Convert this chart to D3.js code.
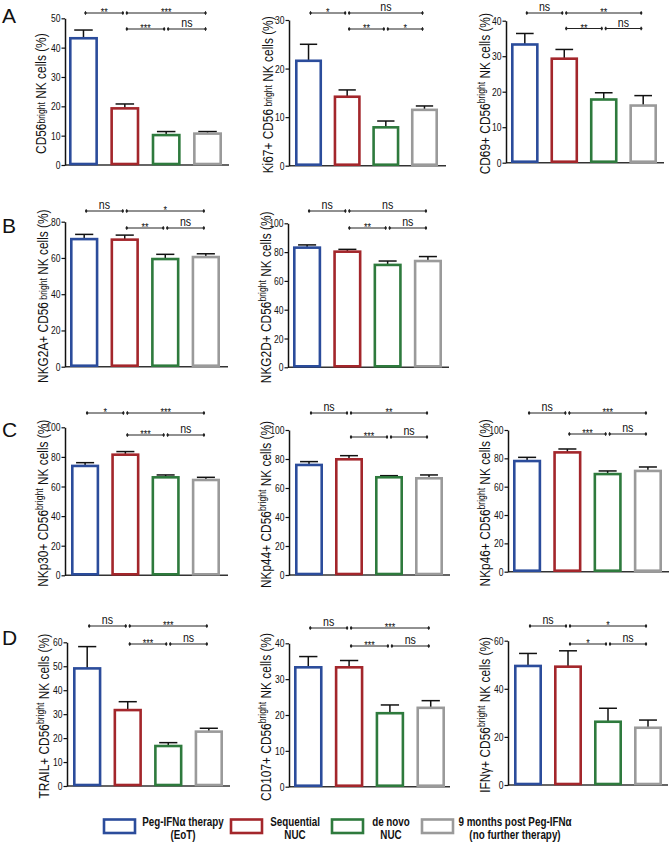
<!DOCTYPE html>
<html><head><meta charset="utf-8">
<script src="https://cdn.jsdelivr.net/npm/d3@7"></script>
<style>body{margin:0;background:#fff}svg{display:block}text{font-family:"Liberation Sans",Arial,sans-serif;fill:#111}</style>
</head><body><svg id="c" width="671" height="843"></svg>
<script>
// ---------- DATA ----------
const groups = ["Peg-IFNα therapy (EoT)", "Sequential NUC", "de novo NUC", "9 months post Peg-IFNα (no further therapy)"];
const legendLines = [["Peg-IFNα therapy", "(EoT)"], ["Sequential", "NUC"], ["de novo", "NUC"], ["9 months post Peg-IFNα", "(no further therapy)"]];
const groupColors = ["#2b4c9b", "#a3262b", "#2e7a3d", "#9a9a9a"];

const cd56Mean = [43.2, 19.3, 10.2, 10.7], cd56Sem = [2.8, 1.5, 1.2, 0.7];
const cd56Sig = [["**", "***"], ["***", "ns"]], cd56Ticks = [0, 10, 20, 30, 40, 50];
const ki67Mean = [21.6, 14.2, 7.9, 11.5], ki67Sem = [3.4, 1.4, 1.3, 0.8];
const ki67Sig = [["*", "ns"], ["**", "*"]], ki67Ticks = [0, 10, 20, 30];
const cd69Mean = [33.3, 29.3, 17.8, 16.1], cd69Sem = [3.1, 2.6, 1.9, 2.8];
const cd69Sig = [["ns", "**"], ["**", "ns"]], cd69Ticks = [0, 10, 20, 30, 40];
const nkg2aMean = [70.4, 70.1, 59.4, 60.5], nkg2aSem = [2.6, 2.5, 2.6, 1.8];
const nkg2aSig = [["ns", "*"], ["**", "ns"]], nkg2aTicks = [0, 20, 40, 60, 80];
const nkg2dMean = [83.1, 80.3, 71.1, 73.8], nkg2dSem = [1.9, 1.6, 2.7, 3.1];
const nkg2dSig = [["ns", "ns"], ["**", "ns"]], nkg2dTicks = [0, 20, 40, 60, 80, 100];
const nkp30Mean = [73.9, 81.5, 66.2, 64.4], nkp30Sem = [2.2, 2.1, 1.6, 1.8];
const nkp30Sig = [["*", "***"], ["***", "ns"]], nkp30Ticks = [0, 20, 40, 60, 80, 100];
const nkp44Mean = [75.9, 79.8, 67.4, 66.7], nkp44Sem = [2.3, 2.5, 1.1, 2.3];
const nkp44Sig = [["ns", "**"], ["***", "ns"]], nkp44Ticks = [0, 20, 40, 60, 80, 100];
const nkp46Mean = [78.1, 84.2, 68.9, 71.1], nkp46Sem = [2.6, 2.4, 2.2, 2.8];
const nkp46Sig = [["ns", "***"], ["***", "ns"]], nkp46Ticks = [0, 20, 40, 60, 80, 100];
const trailMean = [49.1, 31.7, 16.7, 22.7], trailSem = [9.1, 3.5, 1.4, 1.4];
const trailSig = [["ns", "***"], ["***", "ns"]], trailTicks = [0, 10, 20, 30, 40, 50, 60];
const cd107Mean = [33.3, 33.3, 20.5, 22.0], cd107Sem = [3.0, 1.9, 2.3, 2.0];
const cd107Sig = [["ns", "***"], ["***", "ns"]], cd107Ticks = [0, 10, 20, 30, 40];
const ifngMean = [49.5, 49.2, 26.3, 23.8], ifngSem = [5.2, 6.6, 5.6, 3.2];
const ifngSig = [["ns", "*"], ["*", "ns"]], ifngTicks = [0, 20, 40, 60];

// ---------- LAYOUT ----------
const panels = [
  {mean: cd56Mean, sem: cd56Sem, sig: cd56Sig, ticks: cd56Ticks, label: ["CD56", "bright", " NK cells (%)"], sup: false,
   ax: 65, x0: 69, x1: 222, yt: 18.3, yb: 165, xe: 229, lx: 46, b1: 13, b2: 29},
  {mean: ki67Mean, sem: ki67Sem, sig: ki67Sig, ticks: ki67Ticks, label: ["Ki67+ CD56", " bright", "  NK cells (%)"], sup: false,
   ax: 289, x0: 295, x1: 438, yt: 20, yb: 165.7, xe: 446, lx: 273, b1: 13, b2: 29},
  {mean: cd69Mean, sem: cd69Sem, sig: cd69Sig, ticks: cd69Ticks, label: ["CD69+ CD56", "bright", " NK cells (%)"], sup: true,
   ax: 506, x0: 511, x1: 657, yt: 20.7, yb: 162.7, xe: 664, lx: 490, b1: 13, b2: 28.5},
  {mean: nkg2aMean, sem: nkg2aSem, sig: nkg2aSig, ticks: nkg2aTicks, label: ["NKG2A+ CD56", " bright", " NK cells (%)"], sup: false,
   ax: 65, x0: 70, x1: 220, yt: 221.7, yb: 366.7, xe: 228, lx: 48, b1: 211, b2: 228},
  {mean: nkg2dMean, sem: nkg2dSem, sig: nkg2dSig, ticks: nkg2dTicks, label: ["NKG2D+ CD56", "bright", " NK cells (%)"], sup: true,
   ax: 288, x0: 293, x1: 442, yt: 223.3, yb: 367.3, xe: 449, lx: 271, b1: 211, b2: 228},
  {mean: nkp30Mean, sem: nkp30Sem, sig: nkp30Sig, ticks: nkp30Ticks, label: ["NKp30+ CD56", "bright", " NK cells (%)"], sup: true,
   ax: 65, x0: 71, x1: 220, yt: 427.3, yb: 575.3, xe: 228, lx: 48, b1: 413, b2: 435},
  {mean: nkp44Mean, sem: nkp44Sem, sig: nkp44Sig, ticks: nkp44Ticks, label: ["NKp44+ CD56", "bright", " NK cells (%)"], sup: true,
   ax: 289, x0: 295, x1: 443, yt: 430, yb: 575, xe: 450, lx: 271, b1: 413, b2: 437},
  {mean: nkp46Mean, sem: nkp46Sem, sig: nkp46Sig, ticks: nkp46Ticks, label: ["NKp46+ CD56", "bright", " NK cells (%)"], sup: true,
   ax: 508, x0: 513, x1: 662, yt: 430, yb: 571.7, xe: 669, lx: 490, b1: 413, b2: 434},
  {mean: trailMean, sem: trailSem, sig: trailSig, ticks: trailTicks, label: ["TRAIL+ CD56", "bright", " NK cells (%)"], sup: true,
   ax: 67, x0: 73, x1: 223, yt: 642.3, yb: 786, xe: 230, lx: 49, b1: 626, b2: 644},
  {mean: cd107Mean, sem: cd107Sem, sig: cd107Sig, ticks: cd107Ticks, label: ["CD107+ CD56", "bright", " NK cells (%)"], sup: true,
   ax: 289, x0: 294, x1: 445, yt: 643.3, yb: 786.7, xe: 450, lx: 271, b1: 628, b2: 646},
  {mean: ifngMean, sem: ifngSem, sig: ifngSig, ticks: ifngTicks, label: ["IFNγ+ CD56", "bright", " NK cells (%)"], sup: true,
   ax: 508, x0: 514, x1: 662, yt: 640.7, yb: 785, xe: 668, lx: 490, b1: 626, b2: 644}
];
const panelLetters = [["A", 23], ["B", 233], ["C", 437], ["D", 645]];
const legendLayout = [{bx: 104, tx: 183}, {bx: 231, tx: 295}, {bx: 332, tx: 391}, {bx: 422, tx: 515}];
const SX = 0.82; // narrow font emulation

const svg = d3.select("#c");

panels.forEach(p => {
  const g = svg.append("g");
  const y = d3.scaleLinear().domain([0, d3.max(p.ticks)]).range([p.yb, p.yt]);
  const x = d3.scaleBand().domain(d3.range(groups.length)).range([p.x0, p.x1]).paddingInner(0.3).paddingOuter(0);
  const bw = x.bandwidth();
  const cx = i => x(i) + bw / 2;

  g.append("line").attr("x1", p.ax).attr("x2", p.xe).attr("y1", p.yb).attr("y2", p.yb)
    .attr("stroke", "#333").attr("stroke-width", 1.5);

  const eb = g.append("g");
  p.mean.forEach((m, i) => {
    eb.append("line").attr("x1", cx(i)).attr("x2", cx(i)).attr("y1", y(m)).attr("y2", y(m + p.sem[i]))
      .attr("stroke", "#111").attr("stroke-width", 1.5);
    eb.append("line").attr("x1", cx(i) - bw * 0.32).attr("x2", cx(i) + bw * 0.32)
      .attr("y1", y(m + p.sem[i])).attr("y2", y(m + p.sem[i]))
      .attr("stroke", "#111").attr("stroke-width", 1.5);
  });

  g.append("g").selectAll("rect").data(p.mean).join("rect")
    .attr("x", (d, i) => x(i) + 1.3).attr("width", bw - 2.6)
    .attr("y", d => y(d)).attr("height", d => p.yb - y(d) - 1)
    .attr("fill", "none").attr("stroke", (d, i) => groupColors[i]).attr("stroke-width", 2.6);

  const ya = g.append("g").attr("transform", `translate(${p.ax},0)`)
    .call(d3.axisLeft(y).tickValues(p.ticks).tickSize(3.5).tickSizeOuter(0).tickFormat(d3.format("d")));
  ya.select(".domain").attr("stroke", "#111").attr("stroke-width", 1.5);
  ya.selectAll(".tick line").attr("stroke", "#111").attr("stroke-width", 1.2);
  ya.selectAll(".tick text").attr("font-size", 11).attr("font-family", "Liberation Sans, Arial, sans-serif")
    .attr("fill", "#111").attr("x", 0).attr("transform", `translate(-4.5,0) scale(0.78,1)`);

  const mid = (p.yt + p.yb) / 2 + 2;
  const t = g.append("text").attr("transform", `translate(${p.lx},${mid}) rotate(-90) scale(${SX},1)`)
    .attr("text-anchor", "middle").attr("font-size", 14.5);
  t.append("tspan").text(p.label[0]);
  t.append("tspan").attr("font-size", 10.5).attr("dy", p.sup ? -5 : -1).text(p.label[1]);
  t.append("tspan").attr("dy", p.sup ? 5 : 1).text(p.label[2]);

  const pairs = [[[0, 1], [1, 3]], [[1, 2], [2, 3]]];
  const rows = [p.b1, p.b2];
  pairs.forEach((row, r) => {
    row.forEach(([a, b], k) => {
      const xa = cx(a) + 2, xb = cx(b) - 2, yy = rows[r];
      const bg = g.append("g");
      bg.append("line").attr("x1", xa).attr("x2", xb).attr("y1", yy).attr("y2", yy)
        .attr("stroke", "#222").attr("stroke-width", 1);
      [xa, xb].forEach(xx => {
        bg.append("line").attr("x1", xx).attr("x2", xx).attr("y1", yy - 1.8).attr("y2", yy + 1.8)
          .attr("stroke", "#222").attr("stroke-width", 1);
        bg.append("circle").attr("cx", xx).attr("cy", yy).attr("r", 1.2).attr("fill", "#222");
      });
      const lab = p.sig[r][k];
      const isNs = lab === "ns";
      bg.append("text").attr("text-anchor", "middle")
        .attr("transform", `translate(${(xa + xb) / 2},${isNs ? yy - 1.8 : yy + 3}) scale(${SX},1)`)
        .attr("font-size", isNs ? 13 : 11).text(lab);
    });
  });
});

panelLetters.forEach(([l, yy]) => {
  svg.append("text").attr("x", 2).attr("y", yy).attr("font-size", 21).text(l);
});

const lg = svg.append("g");
groups.forEach((gname, i) => {
  const L = legendLayout[i];
  lg.append("rect").attr("x", L.bx).attr("y", 819.5).attr("width", 31).attr("height", 13.5)
    .attr("fill", "none").attr("stroke", groupColors[i]).attr("stroke-width", 2.6);
  legendLines[i].forEach((line, j) => {
    lg.append("text").attr("text-anchor", "middle")
      .attr("transform", `translate(${L.tx},${826 + j * 12.5}) scale(${SX},1)`)
      .attr("font-size", 12).attr("font-weight", "bold").text(line);
  });
});
</script></body></html>
